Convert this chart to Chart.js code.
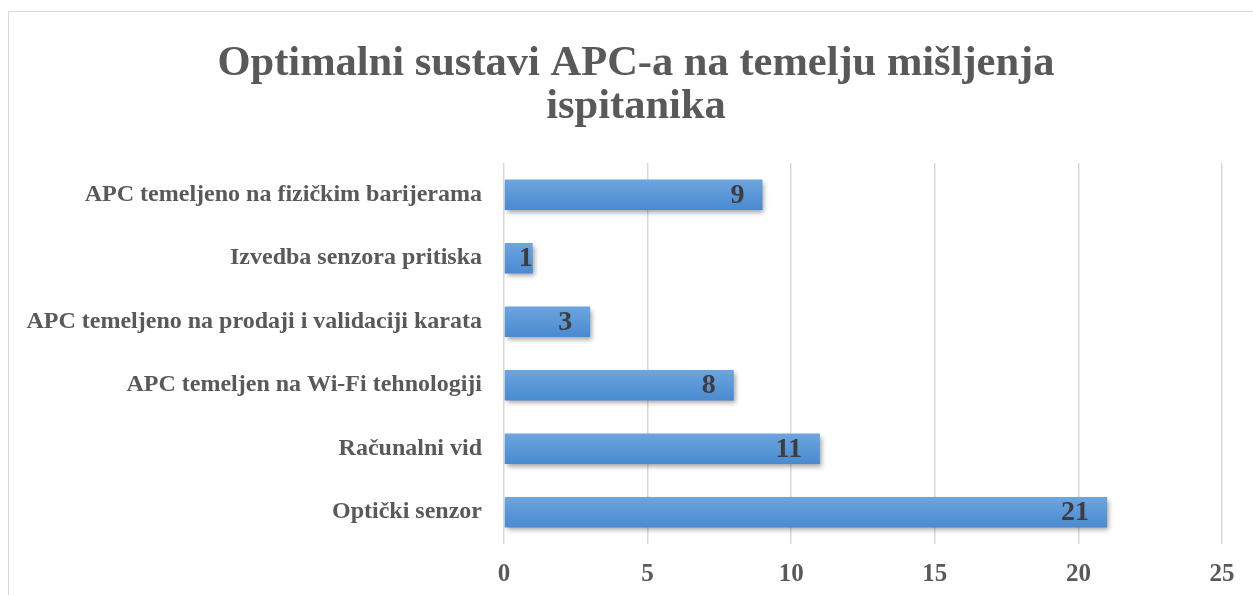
<!DOCTYPE html>
<html><head><meta charset="utf-8">
<script src="https://cdn.jsdelivr.net/npm/chart.js@4/dist/chart.umd.min.js"></script>
<style>
html,body{margin:0;padding:0;background:#fff;overflow:hidden;}
#frame{position:absolute;left:8px;top:11px;width:1270px;height:620px;border:1px solid #d9d9d9;box-sizing:border-box;}
#wrap{position:absolute;left:0;top:0;width:1253px;height:595px;}
canvas{display:block;}
</style></head>
<body>
<div id="frame"></div>
<div id="wrap"><canvas id="c" width="1253" height="595"></canvas></div>
<script>
const titleLines = ["Optimalni sustavi APC-a na temelju mišljenja", "ispitanika"];
const categories = [
  "APC temeljeno na fizičkim barijerama",
  "Izvedba senzora pritiska",
  "APC temeljeno na prodaji i validaciji karata",
  "APC temeljen na Wi-Fi tehnologiji",
  "Računalni vid",
  "Optički senzor"
];
const values = [9, 1, 3, 8, 11, 21];
const xTicks = [0, 5, 10, 15, 20, 25];

const SERIF = "'Liberation Serif','Times New Roman',serif";

const shadowPlugin = {
  id: 'shadow',
  beforeDatasetsDraw(chart) {
    const ctx = chart.ctx;
    ctx.save();
    ctx.shadowColor = 'rgba(0,0,0,0.38)';
    ctx.shadowBlur = 5;
    ctx.shadowOffsetX = 2;
    ctx.shadowOffsetY = 3;
  },
  afterDatasetsDraw(chart) {
    chart.ctx.restore();
  }
};

const titleShift = {
  id: 'titleShift',
  afterLayout(chart) {
    if (chart.titleBlock) { chart.titleBlock.left = 50; chart.titleBlock.right = chart.chartArea.right; }
  }
};

const labelPlugin = {
  id: 'barLabels',
  afterDraw(chart) {
    const ctx = chart.ctx;
    const meta = chart.getDatasetMeta(0);
    const base = chart.scales.x.getPixelForValue(0);
    ctx.save();
    ctx.font = "bold 28px " + SERIF;
    ctx.fillStyle = '#3d3d3d';
    ctx.textAlign = 'right';
    ctx.textBaseline = 'middle';
    meta.data.forEach((bar, i) => {
      const t = String(values[i]);
      const w = ctx.measureText(t).width;
      let x = bar.x - 18;
      if (x - w < base + 2) x = bar.x;
      ctx.fillText(t, x, bar.y + 1);
    });
    ctx.restore();
  }
};

function barGradient(context) {
  const chart = context.chart;
  const ys = chart.scales && chart.scales.y;
  if (!ys || context.dataIndex === undefined) return '#5b9bd5';
  const yc = ys.getPixelForValue(context.dataIndex);
  if (!isFinite(yc)) return '#5b9bd5';
  const h = 16;
  const g = chart.ctx.createLinearGradient(0, yc - h, 0, yc + h);
  g.addColorStop(0, '#6ea6df');
  g.addColorStop(1, '#4889d0');
  return g;
}

const chart = new Chart(document.getElementById('c'), {
  type: 'bar',
  data: {
    labels: categories,
    datasets: [{
      data: values,
      backgroundColor: barGradient,
      borderWidth: 0,
      barPercentage: 0.48,
      categoryPercentage: 1.0
    }]
  },
  options: {
    indexAxis: 'y',
    responsive: false,
    animation: false,
    devicePixelRatio: 1,
    layout: { padding: { left: 0, right: 31, top: 0, bottom: 7 } },
    plugins: {
      legend: { display: false },
      tooltip: { enabled: false },
      title: {
        display: true,
        text: titleLines,
        color: '#595959',
        font: { family: SERIF, size: 42.5, weight: 'bold', lineHeight: 1.0 },
        padding: { top: 43, bottom: 35 }
      }
    },
    scales: {
      x: {
        min: 0, max: 25,
        afterBuildTicks(scale) { scale.ticks = xTicks.map(v => ({ value: v })); },
        afterFit(scale) { scale.height = 44; },
        grid: { color: '#d9d9d9', lineWidth: 1.5, drawTicks: false },
        border: { display: false },
        ticks: {
          color: '#595959',
          padding: 16,
          font: { family: SERIF, size: 25, weight: 'bold' }
        }
      },
      y: {
        grid: { display: false, drawTicks: false },
        border: { display: false },
        afterFit(scale) { scale.width = 504; scale.paddingTop = 0; scale.paddingBottom = 0; },
        ticks: {
          color: '#595959',
          padding: 22,
          font: { family: SERIF, size: 24, weight: 'bold' }
        }
      }
    }
  },
  plugins: [shadowPlugin, titleShift, labelPlugin]
});
chart.update();
</script>
</body></html>
